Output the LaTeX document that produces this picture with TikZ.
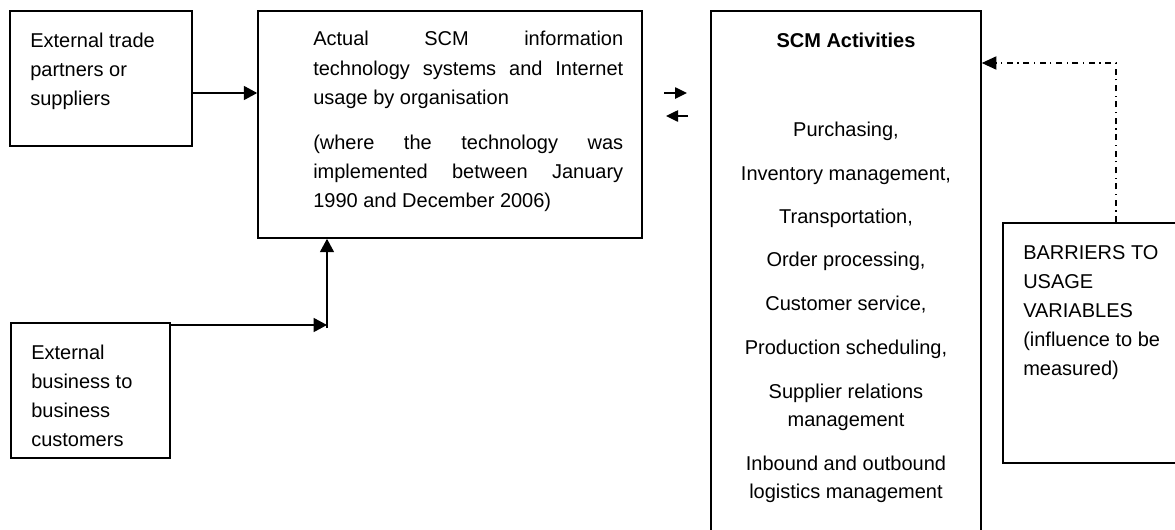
\documentclass[tikz,border=0pt]{standalone}
\usepackage{fontspec}
\setmainfont{Liberation Sans}
\usetikzlibrary{arrows.meta,fit}
\newcommand\bodyfont{\fontsize{15pt}{18pt}\selectfont}
\newlength\justw
\setlength\justw{232.5pt}
\newcommand\jline[1]{\makebox[\justw][s]{#1}}
\begin{document}
\begin{tikzpicture}[x=0.75pt, y=-0.75pt,
  box/.style={draw, line width=1.2pt, inner sep=0pt, rectangle},
  txt/.style={anchor=base west, inner sep=0pt, font=\bodyfont},
  ctxt/.style={anchor=base, inner sep=0pt, font=\bodyfont},
  arr/.style={line width=1.1pt, -{Triangle[length=10pt, width=10.5pt]}},
  smallarr/.style={line width=1.1pt, -{Triangle[length=9pt, width=8.5pt]}},
  dashdot/.style={line width=0.8pt, dash pattern=on 4.5pt off 3.5pt on 0.8pt off 3.5pt,
    -{Triangle[length=11pt, width=10pt]}}]
\useasboundingbox (0,0) rectangle (1175,529);

% boxes
\node[box, fit={(10,11) (192,146)}] (trade) {};
\node[box, fit={(258,11) (642,238)}] (sys) {};
\node[box, fit={(11,323) (170,458)}] (cust) {};
\node[box, fit={(711,11) (981,560)}] (scm) {};
\node[box, fit={(1003,223) (1200,463)}] (bar) {};

% external trade partners
\node[txt] (t1) at (30,47) {External trade};
\node[txt] (t2) at (30,76) {partners or};
\node[txt] (t3) at (30,105) {suppliers};

% SCM systems box
\node[txt] (s1) at (313,45) {\jline{Actual SCM information}};
\node[txt] (s2) at (313,75) {\jline{technology systems and Internet}};
\node[txt] (s3) at (313,104) {usage by organisation};
\node[txt] (s4) at (313,149) {\jline{(where the technology was}};
\node[txt] (s5) at (313,178) {\jline{implemented between January}};
\node[txt] (s6) at (313,207) {1990 and December 2006)};

% business customers
\node[txt] (c1) at (31,359) {External};
\node[txt] (c2) at (31,388) {business to};
\node[txt] (c3) at (31,417) {business};
\node[txt] (c4) at (31,446) {customers};

% SCM activities list
\node[ctxt, font=\bodyfont\bfseries] (a0) at (846,47) {SCM Activities};
\node[ctxt] (a1) at (846,136) {Purchasing,};
\node[ctxt] (a2) at (846,180) {Inventory management,};
\node[ctxt] (a3) at (846,223) {Transportation,};
\node[ctxt] (a4) at (846,266) {Order processing,};
\node[ctxt] (a5) at (846,310) {Customer service,};
\node[ctxt] (a6) at (846,354) {Production scheduling,};
\node[ctxt] (a7) at (846,398) {Supplier relations};
\node[ctxt] (a8) at (846,426) {management};
\node[ctxt] (a9) at (846,470) {Inbound and outbound};
\node[ctxt] (a10) at (846,498) {logistics management};

% barriers
\node[txt] (b1) at (1023,259) {BARRIERS TO};
\node[txt] (b2) at (1023,288) {USAGE};
\node[txt] (b3) at (1023,317) {VARIABLES};
\node[txt] (b4) at (1023,346) {(influence to be};
\node[txt] (b5) at (1023,375) {measured)};

% connectors
\draw[arr] (trade.east |- 0,93) -- (sys.west |- 0,93);
\coordinate (join) at (327,325);
\coordinate (joinlow) at (327,328);
\draw[arr] (cust.east |- join) -- (join);
\draw[arr] (joinlow) -- (joinlow |- sys.south);

\coordinate (fwdA) at (664,93);
\coordinate (fwdB) at (687,93);
\coordinate (backA) at (688,116);
\coordinate (backB) at (666,116);
\draw[smallarr] (fwdA) -- (fwdB);
\draw[smallarr] (backA) -- (backB);

\coordinate (bend) at (1116,63);
\draw[dashdot] (bend |- bar.north) -- (bend) -- (bend -| scm.east);
\end{tikzpicture}
\end{document}
